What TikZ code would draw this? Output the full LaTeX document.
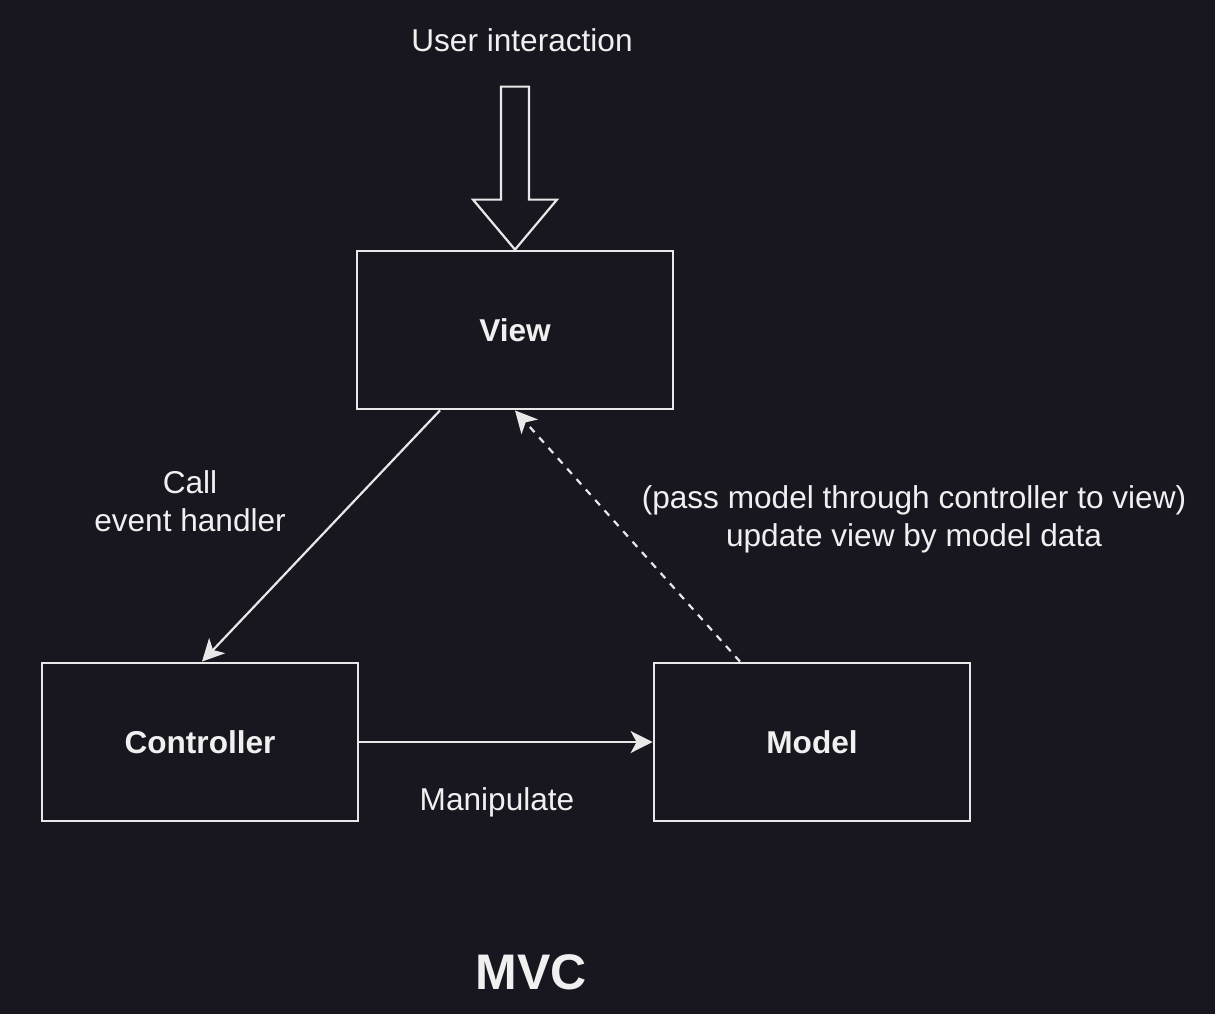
\documentclass[tikz,border=0pt]{standalone}
\usepackage{fontspec}
\setmainfont{Liberation Sans}
\usetikzlibrary{arrows.meta,calc}
\definecolor{bgc}{HTML}{18161F}
\definecolor{fgc}{HTML}{F0F0F0}
\definecolor{linec}{HTML}{E8E8E8}
\tikzset{
  box/.style={draw=linec, line width=1.4pt, minimum width=158pt, minimum height=79pt, inner sep=0pt,
    text=fgc, font=\fontsize{15.8}{19}\selectfont\bfseries},
  lbl/.style={text=fgc, align=center, font=\fontsize{15.8}{19}\selectfont, inner sep=0pt},
  conn/.style={draw=linec, line width=1.1pt, -{Stealth[length=11pt,width=11pt,inset=3pt]}},
}
\begin{document}
\begin{tikzpicture}[x=0.5pt,y=-0.5pt]
\fill[bgc] (0,0) rectangle (1215,1014);
\useasboundingbox (0,0) rectangle (1215,1014);

\node[box] (view) at (515,330) {View};
\node[box] (ctrl) at (200,742) {Controller};
\node[box] (model) at (812,742) {Model};

\node[lbl] (user) at (522,40) {User interaction};
\node[lbl] (call) at (190,501) {Call\\event handler};
\node[lbl] (pass) at (914,519) {(pass model through controller to view)\\update view by model data};
\node[lbl] (manip) at (497,802) {Manipulate};
\node[text=fgc, inner sep=0pt, font=\fontsize{25}{30}\selectfont\bfseries] (mvc) at (531,972) {MVC};

% block arrow into view
\coordinate (tip) at (view.north);
\draw[draw=linec, line width=1.1pt, line join=miter]
  ($(tip)+(-14,-163)$) -- ($(tip)+(14,-163)$) -- ($(tip)+(14,-50)$) -- ($(tip)+(42,-50)$)
  -- (tip) -- ($(tip)+(-42,-50)$) -- ($(tip)+(-14,-50)$) -- cycle;

\draw[conn] ($(view.south)+(-75,0)$) -- ($(ctrl.north)+(2,0)$);
\draw[conn, dash pattern=on 3.5pt off 3.5pt] ($(model.north)+(-72,0)$) -- (view.south);
\draw[conn] (ctrl.east) -- (model.west);
\end{tikzpicture}
\end{document}
